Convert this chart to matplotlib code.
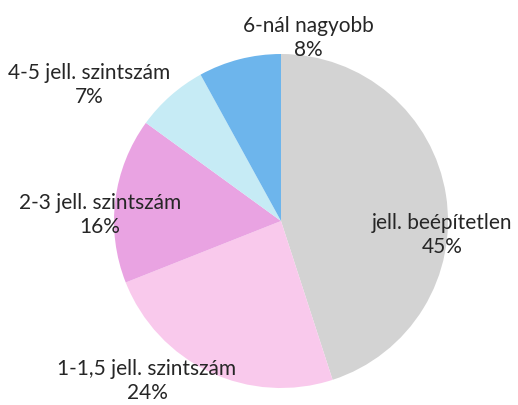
import matplotlib.pyplot as plt

labels = ["jell. beépítetlen", "1-1,5 jell. szintszám", "2-3 jell. szintszám",
          "4-5 jell. szintszám", "6-nál nagyobb"]
shares = [45, 24, 16, 7, 8]
colors = ["#d3d3d3", "#f9c9ec", "#e9a3e2", "#c6ebf5", "#6db5ec"]

# label centers in pixel coords (y from top)
label_pos = [(442, 235), (147, 381), (100, 215), (89, 85), (308, 38)]

fig = plt.figure(figsize=(5.18, 4.05), dpi=100)
ax = fig.add_axes([0, 0, 1, 1])

ax.pie(shares, colors=colors, startangle=90, counterclock=False,
       center=(281, 405 - 221), radius=167, frame=True,
       wedgeprops=dict(linewidth=0))
ax.set_xlim(0, 518)
ax.set_ylim(0, 405)
ax.set_aspect("equal")
ax.axis("off")

for lab, val, (x, y) in zip(labels, shares, label_pos):
    ax.text(x, 405 - y, f"{lab}\n{val}%", ha="center", va="center",
            fontsize=15, family="Lato", color="#262626", linespacing=1.3)

fig.savefig("out.png", dpi=100)
